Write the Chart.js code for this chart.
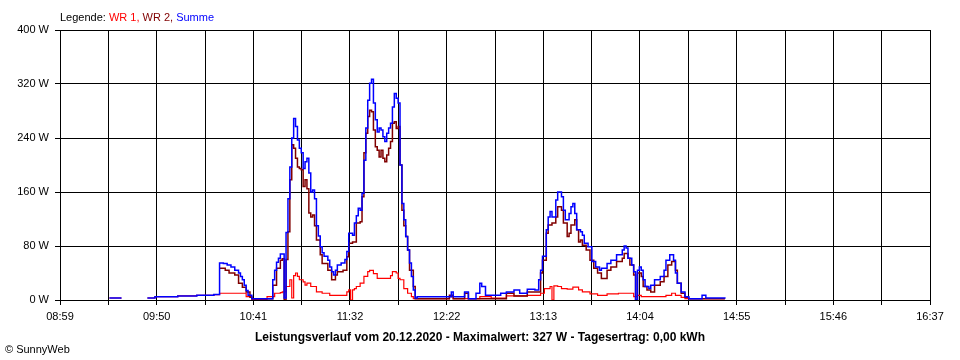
<!DOCTYPE html>
<html>
<head>
<meta charset="utf-8">
<script src="https://cdn.jsdelivr.net/npm/chart.js@4.4.1/dist/chart.umd.min.js"></script>
<style>
  html, body { margin: 0; padding: 0; background: #fff; }
  canvas { display: block; }
</style>
</head>
<body>
<canvas id="powerChart" width="960" height="360"></canvas>
<script>
// axis
const xStart = "08:59";
const xEnd = "16:37";
const xTickLabels = ["08:59", "09:50", "10:41", "11:32", "12:22", "13:13", "14:04", "14:55", "15:46", "16:37"];
const yTicks = [0, 80, 160, 240, 320, 400];

// WR 1 (red)
const wr1Times = [
  "09:25", "09:31", "09:38", "09:45", "09:49", "10:01", "10:11", "10:20", "10:23", "10:34",
  "10:37", "10:40", "10:48", "10:52", "10:55", "10:56", "10:58", "11:00", "11:01", "11:02",
  "11:03", "11:04", "11:05", "11:07", "11:08", "11:09", "11:11", "11:14", "11:17", "11:21",
  "11:26", "11:30", "11:31", "11:32", "11:33", "11:34", "11:35", "11:37", "11:39", "11:41",
  "11:42", "11:44", "11:46", "11:50", "11:53", "11:54", "11:56", "11:57", "11:58", "12:00",
  "12:02", "12:04", "12:05", "12:24", "12:26", "12:40", "12:46", "12:54", "13:05", "13:12",
  "13:14", "13:17", "13:18", "13:19", "13:21", "13:23", "13:26", "13:29", "13:32", "13:34",
  "13:38", "13:42", "13:47", "13:53", "14:01", "14:03", "14:05", "14:18", "14:21", "14:23",
  "14:26", "14:28", "14:49"
];
const wr1Values = [
  3, 2, null, 3, 5, 6, 7, 8, 10, 10,
  5, 1, 5, 10, 11, 12, 20, 30, 3, 36,
  40, 35, 30, 27, 22, 25, 20, 12, 10, 7,
  7, 12, 15, 0, 15, 17, 20, 25, 35, 42,
  44, 39, 32, 32, 36, 42, 40, 32, 30, 17,
  10, 5, 2, 5, 2, 5, 3, 6, 7, 10,
  17, 20, 0, 21, 20, 17, 16, 19, 15, 12,
  9, 7, 9, 10, 5, 7, 5, 7, 10, 7,
  4, 2, 2
];

// WR 2 (dark red)
const wr2Times = [
  "10:23", "10:26", "10:28", "10:31", "10:33", "10:35", "10:37", "10:39", "10:40", "10:50",
  "10:51", "10:53", "10:55", "10:56", "10:57", "10:58", "10:59", "11:00", "11:01", "11:02",
  "11:03", "11:04", "11:05", "11:06", "11:07", "11:08", "11:09", "11:10", "11:11", "11:12",
  "11:13", "11:14", "11:16", "11:17", "11:20", "11:22", "11:24", "11:25", "11:28", "11:30",
  "11:31", "11:33", "11:35", "11:37", "11:38", "11:39", "11:40", "11:41", "11:42", "11:43",
  "11:44", "11:45", "11:46", "11:47", "11:48", "11:49", "11:50", "11:51", "11:52", "11:53",
  "11:54", "11:55", "11:56", "11:57", "11:58", "11:59", "12:00", "12:01", "12:02", "12:03",
  "12:05", "12:06", "12:24", "12:26", "12:32", "12:34", "12:54", "12:58", "13:05", "13:10",
  "13:12", "13:13", "13:15", "13:16", "13:18", "13:20", "13:21", "13:23", "13:24", "13:26",
  "13:27", "13:28", "13:30", "13:31", "13:32", "13:33", "13:34", "13:36", "13:38", "13:40",
  "13:42", "13:44", "13:47", "13:49", "13:52", "13:55", "13:56", "13:58", "13:59", "14:01",
  "14:02", "14:03", "14:05", "14:06", "14:08", "14:10", "14:12", "14:15", "14:17", "14:19",
  "14:21", "14:23", "14:24", "14:26", "14:28", "14:30", "14:49"
];
const wr2Values = [
  47, 44, 40, 37, 25, 19, 12, 4, 2, 2,
  22, 47, 59, 61, 0, 60, 101, 178, 230, 225,
  210, 197, 195, 193, 168, 178, 165, 129, 123, 126,
  110, 89, 67, 54, 44, 30, 37, 42, 44, 64,
  84, 86, 114, 116, 153, 218, 247, 272, 281, 279,
  252, 227, 222, 212, 222, 210, 205, 215, 225, 235,
  262, 264, 254, 257, 200, 133, 110, 94, 74, 44,
  20, 2, 7, 2, 10, 2, 10, 6, 12, 12,
  40, 59, 99, 111, 114, 123, 138, 133, 114, 94,
  99, 111, 119, 104, 86, 89, 81, 74, 59, 47,
  40, 32, 44, 49, 57, 62, 69, 62, 52, 37,
  0, 40, 35, 20, 15, 12, 22, 27, 35, 52,
  57, 44, 25, 10, 4, 2, 2
];

// Summe (blue)
const sumTimes = [
  "09:25", "09:31", "09:38", "09:45", "09:49", "10:01", "10:11", "10:20", "10:23", "10:25",
  "10:27", "10:29", "10:31", "10:33", "10:34", "10:35", "10:36", "10:37", "10:38", "10:40",
  "10:50", "10:51", "10:52", "10:53", "10:54", "10:55", "10:57", "10:58", "10:59", "11:00",
  "11:01", "11:02", "11:03", "11:04", "11:05", "11:06", "11:07", "11:08", "11:09", "11:10",
  "11:11", "11:12", "11:13", "11:14", "11:15", "11:16", "11:17", "11:18", "11:20", "11:21",
  "11:22", "11:23", "11:24", "11:25", "11:27", "11:29", "11:30", "11:31", "11:33", "11:34",
  "11:35", "11:36", "11:37", "11:38", "11:39", "11:40", "11:41", "11:42", "11:43", "11:44",
  "11:45", "11:46", "11:47", "11:48", "11:49", "11:50", "11:51", "11:52", "11:53", "11:54",
  "11:55", "11:56", "11:57", "11:58", "11:59", "12:00", "12:01", "12:02", "12:03", "12:04",
  "12:05", "12:06", "12:07", "12:25", "12:26", "12:32", "12:34", "12:38", "12:40", "12:41",
  "12:43", "12:51", "12:54", "12:58", "13:01", "13:05", "13:09", "13:11", "13:12", "13:13",
  "13:15", "13:16", "13:17", "13:18", "13:20", "13:21", "13:23", "13:24", "13:25", "13:27",
  "13:28", "13:29", "13:30", "13:31", "13:33", "13:34", "13:35", "13:37", "13:39", "13:41",
  "13:43", "13:44", "13:47", "13:49", "13:52", "13:55", "13:56", "13:57", "13:58", "14:00",
  "14:01", "14:02", "14:03", "14:04", "14:05", "14:06", "14:07", "14:09", "14:10", "14:12",
  "14:15", "14:17", "14:18", "14:20", "14:22", "14:23", "14:24", "14:26", "14:28", "14:30",
  "14:37", "14:39", "14:49"
];
const sumValues = [
  3, 2, null, 3, 5, 6, 7, 8, 55, 54,
  52, 49, 44, 40, 35, 30, 22, 14, 7, 2,
  2, 30, 44, 56, 62, 68, 3, 100, 150, 197,
  240, 269, 257, 237, 225, 218, 195, 205, 210, 188,
  160, 163, 150, 110, 95, 79, 70, 65, 59, 49,
  42, 37, 44, 52, 55, 60, 72, 99, 96, 114,
  125, 136, 133, 158, 207, 255, 296, 321, 327, 292,
  267, 249, 255, 252, 242, 235, 247, 255, 262, 286,
  306, 299, 292, 200, 143, 119, 94, 74, 55, 35,
  15, 3, 5, 12, 5, 12, 2, 10, 25, 20,
  7, 10, 12, 15, 10, 16, 15, 30, 44, 65,
  104, 123, 131, 123, 148, 160, 153, 133, 119, 128,
  138, 143, 128, 104, 101, 96, 84, 79, 57, 49,
  44, 47, 54, 59, 67, 74, 80, 77, 62, 52,
  42, 0, 44, 49, 44, 30, 20, 17, 22, 30,
  35, 44, 59, 67, 59, 40, 25, 12, 5, 2,
  7, 3, 2
];

const legendParts = [
  ["Legende: ", "#000000"],
  ["WR 1, ", "#ff0000"],
  ["WR 2, ", "#800000"],
  ["Summe", "#0000ff"]
];
const titleText = "Leistungsverlauf vom 20.12.2020 - Maximalwert: 327 W - Tagesertrag: 0,00 kWh";
const copyText = "\u00a9 SunnyWeb";

const toMin = (s) => {
  const [h, m] = s.split(":").map(Number);
  return h * 60 + m;
};
const toPoints = (times, values) => times.map((t, i) => ({ x: toMin(t), y: values[i] }));

const xMin = toMin(xStart);
const xMax = toMin(xEnd);
const gridSteps = (xTickLabels.length - 1) * 2;

const fontFamily = "'Liberation Sans', Arial, sans-serif";

// legend on top, title + copyright at the bottom
const textPlugin = {
  id: "sunnyText",
  afterDraw(chart) {
    const ctx = chart.ctx;
    ctx.save();
    ctx.textBaseline = "alphabetic";
    ctx.font = "11px " + fontFamily;
    let x = 60;
    legendParts.forEach(([txt, color]) => {
      ctx.fillStyle = color;
      ctx.fillText(txt, x, 21);
      x += ctx.measureText(txt).width;
    });

    ctx.fillStyle = "#000";
    ctx.font = "bold 12px " + fontFamily;
    ctx.textAlign = "center";
    ctx.fillText(titleText, 480, 341);

    ctx.font = "11px " + fontFamily;
    ctx.textAlign = "left";
    ctx.fillText(copyText, 5, 353);
    ctx.restore();
  }
};

new Chart(document.getElementById("powerChart"), {
  type: "line",
  data: {
    datasets: [
      {
        label: "Summe",
        data: toPoints(sumTimes, sumValues),
        borderColor: "#0000ff",
        borderWidth: 1.5,
        order: 0
      },
      {
        label: "WR 2",
        data: toPoints(wr2Times, wr2Values),
        borderColor: "#800000",
        borderWidth: 1.5,
        order: 1
      },
      {
        label: "WR 1",
        data: toPoints(wr1Times, wr1Values),
        borderColor: "#ff0000",
        borderWidth: 1.2,
        order: 2
      }
    ]
  },
  options: {
    responsive: false,
    animation: false,
    devicePixelRatio: 1,
    spanGaps: false,
    elements: {
      point: { radius: 0 },
      line: { stepped: true, tension: 0, fill: false }
    },
    layout: { padding: { top: 30, right: 30, left: 0, bottom: 0 } },
    plugins: {
      legend: { display: false },
      tooltip: { enabled: false },
      title: { display: false }
    },
    scales: {
      x: {
        type: "linear",
        min: xMin,
        max: xMax,
        afterBuildTicks: (scale) => {
          scale.ticks = [];
          for (let i = 0; i <= gridSteps; i++) {
            scale.ticks.push({ value: xMin + (i * (xMax - xMin)) / gridSteps });
          }
        },
        afterFit: (scale) => { scale.height = 60; },
        ticks: {
          autoSkip: false,
          maxRotation: 0,
          padding: 5,
          color: "#000",
          font: { family: fontFamily, size: 11 },
          callback: (value, index) => (index % 2 === 0 ? xTickLabels[index / 2] : "")
        },
        grid: { color: "#000", lineWidth: 1, tickLength: 5, tickColor: "#000" },
        border: { color: "#000", width: 1 }
      },
      y: {
        min: yTicks[0],
        max: yTicks[yTicks.length - 1],
        afterBuildTicks: (scale) => {
          scale.ticks = yTicks.map((v) => ({ value: v }));
        },
        afterFit: (scale) => { scale.width = 60; },
        ticks: {
          padding: 6,
          color: "#000",
          font: { family: fontFamily, size: 11 },
          callback: (value) => value + " W"
        },
        grid: { color: "#000", lineWidth: 1, tickLength: 5, tickColor: "#000" },
        border: { color: "#000", width: 1 }
      }
    }
  },
  plugins: [textPlugin]
});
</script>
</body>
</html>
